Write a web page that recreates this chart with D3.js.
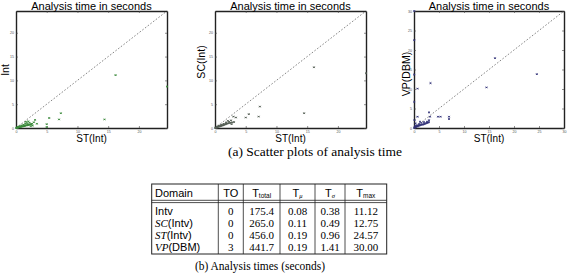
<!DOCTYPE html>
<html>
<head>
<meta charset="utf-8">
<script src="https://d3js.org/d3.v7.min.js"></script>
<style>
  body { margin: 0; background: #fff; }
  svg { display: block; }
</style>
</head>
<body>
<svg width="568" height="280"></svg>
<script>

    // scatter data: [ST(Int) time, other domain time] in seconds
    const intVsSt = [[16.2, 11.1], [24.57, 8.7], [14.4, 1.8], [7.3, 3.1], [5.4, 2.1], [7.0, 1.8], [5.0, 0.8], [5.0, 0.2],
        [3.1, 1.7], [3.4, 0.9], [2.9, 1.2], [1.6, 1.3], [2.0, 1.4],
        [0.05, 0.03], [0.1, 0.04], [0.15, 0.06], [0.2, 0.08], [0.25, 0.1], [0.3, 0.12], [0.4, 0.15], [0.5, 0.18],
        [0.6, 0.2], [0.7, 0.22], [0.8, 0.25], [0.9, 0.3], [1.0, 0.3], [1.1, 0.35], [1.2, 0.38], [1.3, 0.42],
        [1.4, 0.45], [1.5, 0.5], [1.6, 0.5], [1.7, 0.55], [1.8, 0.6], [1.9, 0.62], [2.0, 0.65], [2.1, 0.7],
        [2.2, 0.72], [2.3, 0.75], [2.5, 0.8], [2.6, 0.9], [0.6, 0.4], [0.9, 0.55], [1.2, 0.7], [1.5, 0.9],
        [1.8, 1.0], [2.2, 1.1], [0.3, 0.25], [2.7, 0.5], [2.4, 0.4]];

    const scVsSt = [[16.1, 12.75], [24.57, 11.5], [14.5, 3.1], [7.3, 4.5], [7.1, 2.4], [5.5, 2.9], [5.0, 2.2],
        [3.1, 1.25], [3.0, 2.4], [3.4, 2.2], [2.6, 1.6], [2.1, 1.5],
        [0.05, 0.04], [0.1, 0.06], [0.2, 0.1], [0.3, 0.15], [0.4, 0.2], [0.5, 0.25], [0.6, 0.3], [0.7, 0.32],
        [0.8, 0.38], [0.9, 0.42], [1.0, 0.45], [1.1, 0.5], [1.2, 0.55], [1.3, 0.6], [1.4, 0.62], [1.5, 0.7],
        [1.6, 0.72], [1.7, 0.8], [1.8, 0.85], [1.9, 0.9], [2.0, 0.95], [2.2, 1.0], [2.4, 1.05], [2.6, 1.1],
        [2.8, 1.2], [0.6, 0.5], [1.0, 0.7], [1.4, 0.9], [1.8, 1.15], [2.3, 1.3], [2.7, 0.8], [0.3, 0.3]];

    const vpVsSt = [[0.05, 30], [0.05, 22.5], [0.05, 13.7], [0.7, 10.1], [3.3, 11.5], [16.2, 17.9], [24.57, 13.8],
        [14.5, 10.4], [0.05, 6.7], [0.7, 2.9], [3.0, 4.0], [3.2, 2.9], [4.8, 2.9], [5.3, 2.9], [7.0, 2.9],
        [7.0, 2.3], [3.0, 2.0], [2.6, 1.6],
        [0.05, 0.05], [0.1, 0.1], [0.2, 0.15], [0.3, 0.2], [0.4, 0.3], [0.5, 0.35], [0.6, 0.4], [0.7, 0.5],
        [0.8, 0.55], [0.9, 0.6], [1.0, 0.65], [1.2, 0.7], [1.4, 0.8], [1.6, 0.85], [1.8, 0.9], [2.0, 1.0],
        [2.2, 1.1], [2.4, 1.2], [2.6, 1.3], [2.8, 1.4], [3.0, 1.5], [0.5, 0.7], [1.0, 1.0], [1.5, 1.3],
        [2.0, 1.5], [0.2, 0.5], [0.3, 1.2], [0.1, 2.0], [1.2, 1.6]];

    const ticksSmall = [0, 5, 10, 15, 20];
    const ticksLarge = [0, 5, 10, 15, 20, 25, 30];

    // table data
    const domains = ["Intv", "SC(Intv)", "ST(Intv)", "VP(DBM)"];
    const timeouts = [0, 0, 0, 3];
    const tTotal = ["175.4", "265.0", "456.0", "441.7"];
    const tMean = ["0.08", "0.11", "0.19", "0.19"];
    const tStd = ["0.38", "0.49", "0.96", "1.41"];
    const tMax = ["11.12", "12.75", "24.57", "30.00"];

    const svg = d3.select("svg");
    const sans = "'Liberation Sans', Arial, sans-serif";
    const serif = "'Liberation Serif', 'DejaVu Serif', serif";

    function scatter(opts) {
        const x = d3.scaleLinear().domain([0, opts.max]).range([opts.left, opts.right]);
        const y = d3.scaleLinear().domain([0, opts.max]).range([128, 11]);
        const g = svg.append("g");

        // diagonal
        g.append("line")
            .attr("x1", x(0)).attr("y1", y(0))
            .attr("x2", x(opts.max)).attr("y2", y(opts.max))
            .attr("stroke", "#777").attr("stroke-width", 0.9)
            .attr("stroke-dasharray", "1.6,1.8");

        // axes on all four sides, inward ticks, labels only left/bottom
        const ax = [
            [d3.axisBottom(x), 0, y(0), true],
            [d3.axisTop(x), 0, y(opts.max), false],
            [d3.axisLeft(y), x(0), 0, true],
            [d3.axisRight(y), x(opts.max), 0, false]
        ];
        ax.forEach(([a, tx, ty, lab]) => {
            a.tickValues(opts.ticks).tickSizeOuter(0).tickSizeInner(-2).tickPadding(2)
                .tickFormat(lab ? d3.format("d") : "");
            const s = g.append("g").attr("transform", `translate(${tx},${ty})`).call(a);
            s.select(".domain").attr("stroke", "#222").attr("stroke-width", 1.4);
            s.selectAll(".tick line").attr("stroke", "#444").attr("stroke-width", 0.6);
            s.selectAll(".tick text").attr("font-size", 3.6).attr("font-family", sans).attr("fill", "#555");
        });

        // points
        g.selectAll(".pt")
            .data(opts.data)
            .enter()
            .append("path")
            .attr("class", "pt")
            .attr("transform", d => `translate(${x(d[0])},${y(d[1])})`)
            .attr("d", "M-0.8,-0.8L0.8,0.8M-0.8,0.8L0.8,-0.8M-1,0L1,0")
            .attr("stroke", opts.color)
            .attr("stroke-width", 0.8)
            .attr("fill", "none");

        g.append("text")
            .attr("x", (opts.left + opts.right) / 2).attr("y", 9.5)
            .attr("text-anchor", "middle")
            .attr("font-family", sans).attr("font-size", 11)
            .text("Analysis time in seconds");

        g.append("text")
            .attr("x", (opts.left + opts.right) / 2).attr("y", 141.5)
            .attr("text-anchor", "middle")
            .attr("font-family", sans).attr("font-size", 10)
            .text("ST(Int)");

        g.append("text")
            .attr("transform", `translate(${opts.ylabX},${opts.ylabY}) rotate(-90)`)
            .attr("text-anchor", "middle")
            .attr("font-family", sans).attr("font-size", 10.5)
            .text(opts.ylabel);
    }

    scatter({data: intVsSt, max: 24.57, ticks: ticksSmall, left: 16, right: 167, color: "#3c8a3c",
        ylabel: "Int", ylabX: 9, ylabY: 70});
    scatter({data: scVsSt, max: 24.57, ticks: ticksSmall, left: 215, right: 366, color: "#556055",
        ylabel: "SC(Int)", ylabX: 205, ylabY: 62});
    scatter({data: vpVsSt, max: 30, ticks: ticksLarge, left: 414, right: 564, color: "#343478",
        ylabel: "VP(DBM)", ylabX: 410, ylabY: 74});

    svg.append("text")
        .attr("x", 315).attr("y", 156)
        .attr("text-anchor", "middle")
        .attr("font-family", serif).attr("font-size", 11.5)
        .attr("textLength", 174).attr("lengthAdjust", "spacingAndGlyphs")
        .text("(a) Scatter plots of analysis time");

    // table
    const cols = [151.7, 218.3, 243.3, 280, 315, 345, 386.7];
    const rowY = d3.scaleBand().domain(d3.range(domains.length)).range([205, 253]);
    const tbl = svg.append("g");

    tbl.append("rect")
        .attr("x", cols[0]).attr("y", 184)
        .attr("width", cols[6] - cols[0]).attr("height", 254 - 184)
        .attr("fill", "none").attr("stroke", "#222").attr("stroke-width", 1);
    [200.3, 202.6].forEach(yy => tbl.append("line")
        .attr("x1", cols[0]).attr("x2", cols[6]).attr("y1", yy).attr("y2", yy)
        .attr("stroke", "#222").attr("stroke-width", 0.8));
    cols.slice(1, 6).forEach(cx => tbl.append("line")
        .attr("x1", cx).attr("x2", cx).attr("y1", 184).attr("y2", 254)
        .attr("stroke", "#222").attr("stroke-width", 0.8));

    // header
    const hy = 196.5;
    tbl.append("text").attr("x", 155).attr("y", hy)
        .attr("font-family", sans).attr("font-size", 11).text("Domain");
    tbl.append("text").attr("x", (cols[1] + cols[2]) / 2).attr("y", hy).attr("text-anchor", "middle")
        .attr("font-family", sans).attr("font-size", 11).text("TO");
    const subs = ["total", "μ", "σ", "max"];
    subs.forEach((s, i) => {
        const t = tbl.append("text")
            .attr("x", (cols[i + 2] + cols[i + 3]) / 2).attr("y", hy)
            .attr("text-anchor", "middle")
            .attr("font-family", sans).attr("font-size", 11);
        t.append("tspan").text("T");
        t.append("tspan").attr("font-size", 6.5).attr("dy", 1.5)
            .attr("font-family", s === "μ" || s === "σ" ? serif : sans)
            .attr("font-style", s === "μ" || s === "σ" ? "italic" : "normal").text(s);
    });

    // body rows
    domains.forEach((d, i) => {
        const yy = rowY(i) + rowY.bandwidth() / 2 + 3.8;
        const t = tbl.append("text").attr("x", 155).attr("y", yy).attr("font-size", 11);
        const m = d.match(/^([A-Z]+)(\(.*\))$/);
        if (m) {
            t.append("tspan").attr("font-family", serif).attr("font-style", "italic").text(m[1]);
            t.append("tspan").attr("font-family", sans).text(m[2]);
        } else {
            t.append("tspan").attr("font-family", sans).text(d);
        }
        [timeouts[i], tTotal[i], tMean[i], tStd[i], tMax[i]].forEach((v, j) => {
            tbl.append("text")
                .attr("x", (cols[j + 1] + cols[j + 2]) / 2).attr("y", yy)
                .attr("text-anchor", "middle")
                .attr("font-family", serif).attr("font-size", 11)
                .text(v);
        });
    });

    svg.append("text")
        .attr("x", 260).attr("y", 270)
        .attr("text-anchor", "middle")
        .attr("font-family", serif).attr("font-size", 11.5)
        .attr("textLength", 130).attr("lengthAdjust", "spacingAndGlyphs")
        .text("(b) Analysis times (seconds)");

</script>
</body>
</html>
